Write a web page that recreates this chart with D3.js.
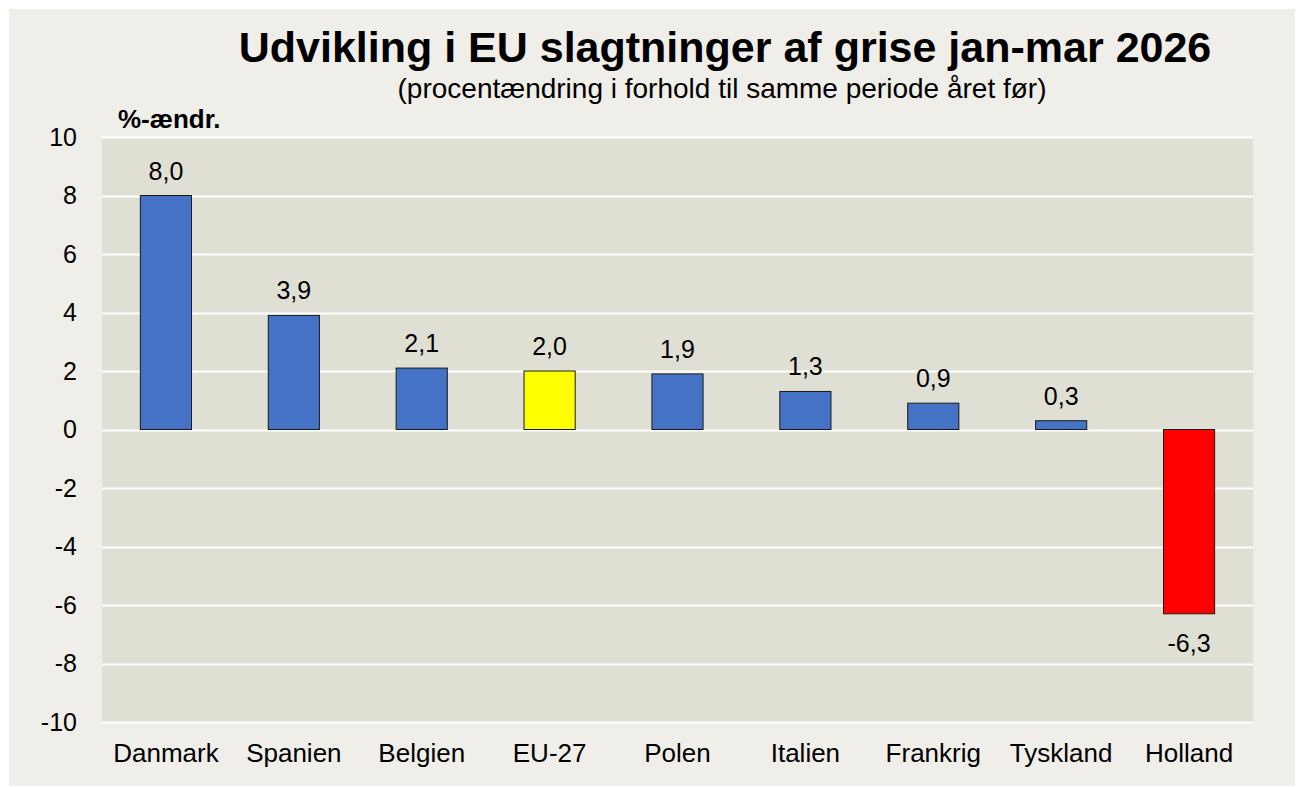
<!DOCTYPE html>
<html>
<head>
<meta charset="utf-8">
<script src="https://cdn.jsdelivr.net/npm/d3@7"></script>
<style>
  html, body { margin: 0; padding: 0; background: #ffffff; }
  svg { display: block; font-family: "Liberation Sans", Arial, sans-serif; }
</style>
</head>
<body>
<div id="chart"></div>
<script>
// Data
const countries = ["Danmark", "Spanien", "Belgien", "EU-27", "Polen", "Italien", "Frankrig", "Tyskland", "Holland"];
const changes = [8.0, 3.9, 2.1, 2.0, 1.9, 1.3, 0.9, 0.3, -6.3];
const yTicks = [-10, -8, -6, -4, -2, 0, 2, 4, 6, 8, 10];
const titleText = "Udvikling i EU slagtninger af grise jan-mar 2026";
const subtitleText = "(procentændring i forhold til samme periode året før)";
const yLabel = "%-ændr.";

const W = 1300, H = 787;
const plot = { left: 102, right: 1253, top: 137, bottom: 722 };

const svg = d3.select("#chart").append("svg")
  .attr("width", W)
  .attr("height", H);

// outer chart background
svg.append("rect")
  .attr("x", 9).attr("y", 9)
  .attr("width", 1286).attr("height", 777)
  .attr("fill", "#efeee8");

// plot area
svg.append("rect")
  .attr("x", plot.left).attr("y", plot.top)
  .attr("width", plot.right - plot.left).attr("height", plot.bottom - plot.top)
  .attr("fill", "#e0dfd4");

const x = d3.scaleBand()
  .domain(countries)
  .range([plot.left, plot.right])
  .paddingInner(0.6)
  .paddingOuter(0.3);

const y = d3.scaleLinear()
  .domain([-10, 10])
  .range([plot.bottom, plot.top]);

// gridlines
svg.append("g")
  .selectAll("line")
  .data(yTicks)
  .join("line")
  .attr("x1", plot.left).attr("x2", plot.right)
  .attr("y1", d => Math.round(y(d)) + 0.5)
  .attr("y2", d => Math.round(y(d)) + 0.5)
  .attr("stroke", "#ffffff")
  .attr("stroke-width", 2);

// y axis labels (plain hyphen for negatives, like the original)
const yAxis = svg.append("g")
  .attr("transform", `translate(${plot.left},0)`)
  .call(d3.axisLeft(y).tickValues(yTicks).tickSize(0).tickPadding(25)
    .tickFormat(d => String(d)));
yAxis.select(".domain").remove();
yAxis.selectAll("text")
  .attr("font-family", "Liberation Sans, Arial, sans-serif")
  .attr("font-size", 25)
  .attr("fill", "#000");

// x axis labels
const xAxis = svg.append("g")
  .attr("transform", `translate(0,${plot.bottom})`)
  .call(d3.axisBottom(x).tickSize(0).tickPadding(22));
xAxis.select(".domain").remove();
xAxis.selectAll("text")
  .attr("font-family", "Liberation Sans, Arial, sans-serif")
  .attr("font-size", 26)
  .attr("fill", "#000");

const barColor = (d, i) => d === "EU-27" ? "#ffff00" : (changes[i] < 0 ? "#ff0000" : "#4472c4");

// bars
svg.append("g")
  .selectAll("rect")
  .data(countries)
  .join("rect")
  .attr("x", d => x(d))
  .attr("width", x.bandwidth())
  .attr("y", (d, i) => y(Math.max(0, changes[i])))
  .attr("height", (d, i) => Math.abs(y(changes[i]) - y(0)))
  .attr("fill", barColor)
  .attr("stroke", "#1a1a1a")
  .attr("stroke-width", 1);

// value labels
const fmt = v => v.toFixed(1).replace(".", ",");
svg.append("g")
  .selectAll("text")
  .data(countries)
  .join("text")
  .attr("x", d => x(d) + x.bandwidth() / 2)
  .attr("y", (d, i) => changes[i] >= 0 ? y(changes[i]) - 16 : y(changes[i]) + 38)
  .attr("text-anchor", "middle")
  .attr("font-size", 25)
  .attr("fill", "#000")
  .text((d, i) => fmt(changes[i]));

// y label
svg.append("text")
  .attr("x", 118).attr("y", 128)
  .attr("font-size", 26)
  .attr("font-weight", "bold")
  .text(yLabel);

// titles
svg.append("text")
  .attr("x", 725).attr("y", 62)
  .attr("text-anchor", "middle")
  .attr("font-size", 43)
  .attr("font-weight", "bold")
  .text(titleText);

svg.append("text")
  .attr("x", 722).attr("y", 98)
  .attr("text-anchor", "middle")
  .attr("font-size", 28)
  .text(subtitleText);
</script>
</body>
</html>
